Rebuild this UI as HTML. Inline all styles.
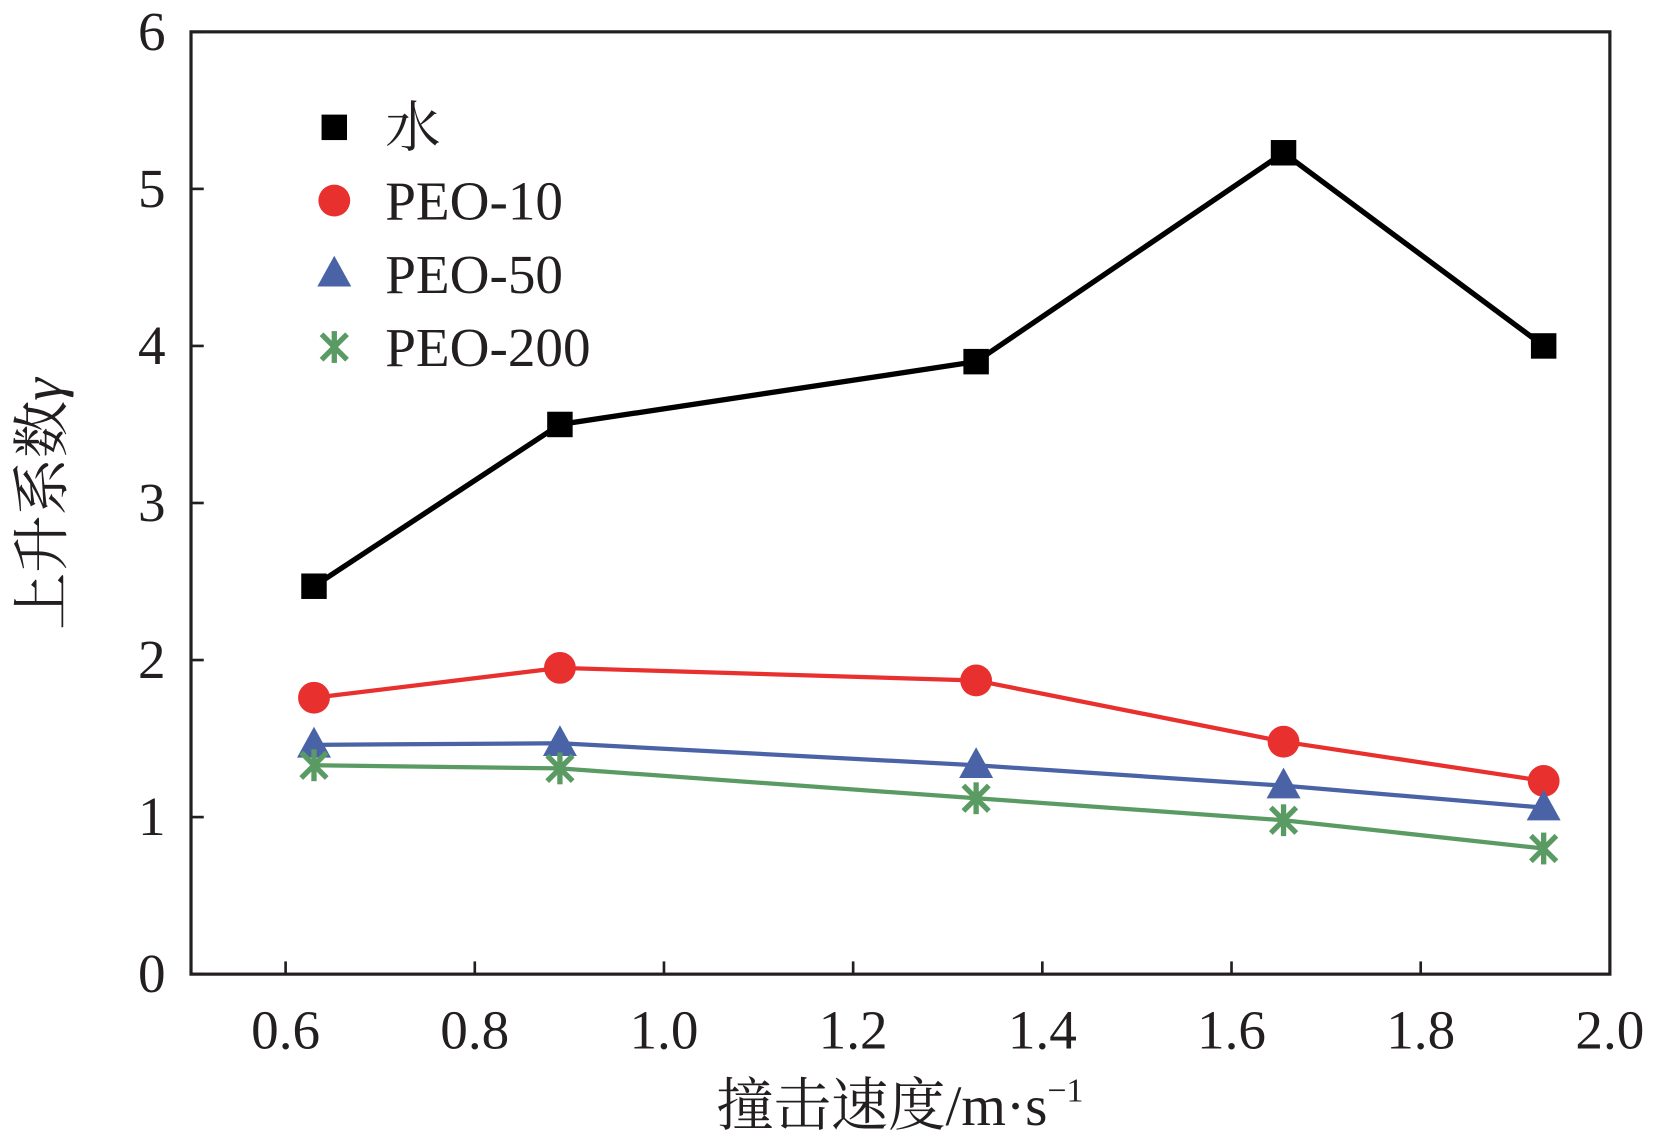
<!DOCTYPE html>
<html><head><meta charset="utf-8"><style>
html,body{margin:0;padding:0;background:#fff;}
svg{display:block;}
text{font-family:"Liberation Serif","Noto Serif CJK SC",serif;fill:#231f20;}
</style></head><body>
<svg id="chart" width="1664" height="1140" viewBox="0 0 1568 1074.3" preserveAspectRatio="none" xmlns="http://www.w3.org/2000/svg">
<rect x="0" y="0" width="1568" height="1075" fill="#fff"/>
<rect x="180" y="30" width="1337" height="888" fill="none" stroke="#231f20" stroke-width="3"/>
<g id="ticks"></g>
<g id="series"></g>
<g id="legend"></g>
<text x="848" y="1060" font-size="54" text-anchor="middle">撞击速度/m·s<tspan font-size="32" dy="-22">−1</tspan></text>
<text transform="translate(58,475) rotate(-90)" font-size="54" text-anchor="middle">上升系数<tspan font-style="italic">γ</tspan></text>
</svg>
<script>
const categories = [0.63, 0.89, 1.33, 1.655, 1.93];
const water = [2.47, 3.5, 3.9, 5.23, 4.0];
const peo10 = [1.76, 1.95, 1.87, 1.48, 1.23];
const peo50 = [1.46, 1.47, 1.33, 1.20, 1.06];
const peo200 = [1.33, 1.31, 1.12, 0.98, 0.80];
const xTicks = [0.6, 0.8, 1.0, 1.2, 1.4, 1.6, 1.8, 2.0];
const xTickLabels = ["0.6","0.8","1.0","1.2","1.4","1.6","1.8","2.0"];
const yTicks = [0,1,2,3,4,5,6];
const legendLabels = ["水","PEO-10","PEO-50","PEO-200"];

const NS="http://www.w3.org/2000/svg";
const L=180,R=1517,T=30,B=918;
const xs=v=>L+(v-0.5)/(2.0-0.5)*(R-L);
const ys=v=>B-(v/6)*(B-T);
function mk(tag,attrs,parent){const e=document.createElementNS(NS,tag);for(const k in attrs)e.setAttribute(k,attrs[k]);parent.appendChild(e);return e;}
const tg=document.getElementById('ticks');
xTicks.forEach((t,i)=>{
  const l=mk('line',{x1:xs(t),x2:xs(t),y1:B,y2:B-12,stroke:'#231f20','stroke-width':2.5},tg);
  
  
  const tx=mk('text',{x:xs(t),y:B+70,'font-size':52,'text-anchor':'middle'},tg);
  tx.textContent=xTickLabels[i];
  
  
});
yTicks.forEach(t=>{
  const l=mk('line',{x1:L,x2:L+12,y1:ys(t),y2:ys(t),stroke:'#231f20','stroke-width':2.5},tg);
  
  
  const tx=mk('text',{x:L-24,y:ys(t)+17,'font-size':52,'text-anchor':'end'},tg);
  tx.textContent=String(t);
  
  
});
function marker(type,x,y,color,parent){
  let e;
  if(type==='square') e=mk('rect',{x:x-12,y:y-12,width:24,height:24,fill:color},parent);
  else if(type==='circle') e=mk('circle',{cx:x,cy:y,r:15,fill:color},parent);
  else if(type==='tri') e=mk('polygon',{points:`${x},${y-17} ${x-16},${y+12} ${x+16},${y+12}`,fill:color},parent);
  else {e=mk('g',{stroke:color,'stroke-width':5},parent);
    mk('line',{x1:x-12,y1:y-12,x2:x+12,y2:y+12},e);mk('line',{x1:x-12,y1:y+12,x2:x+12,y2:y-12},e);mk('line',{x1:x,y1:y-15,x2:x,y2:y+15},e);}
  return e;
}
const sg=document.getElementById('series');
const defs=[[water,'#000000','square',5],[peo10,'#e8302f','circle',4],[peo50,'#4a63a6','tri',4],[peo200,'#5a9a63','star',4]];
const names=['series-water','series-peo-10','series-peo-50','series-peo-200'];
defs.forEach((d,si)=>{
  const g=mk('g',{},sg);
  
  
  const pl=mk('polyline',{points:categories.map((c,i)=>xs(c)+','+ys(d[0][i])).join(' '),fill:'none',stroke:d[1],'stroke-width':d[3]},g);
  
  
  categories.forEach((c,i)=>{
    const m=marker(d[2],xs(c),ys(d[0][i]),d[1],g);
    
    
  });
});
const lg=document.getElementById('legend');
legendLabels.forEach((lab,i)=>{
  const y=120+i*69;
  const g=mk('g',{},lg);
  
  
  marker(defs[i][2],315,y,defs[i][1],g);
  const t=mk('text',{x:363,y:y+18,'font-size':52},g);
  t.textContent=lab;
});
</script>
</body></html>
